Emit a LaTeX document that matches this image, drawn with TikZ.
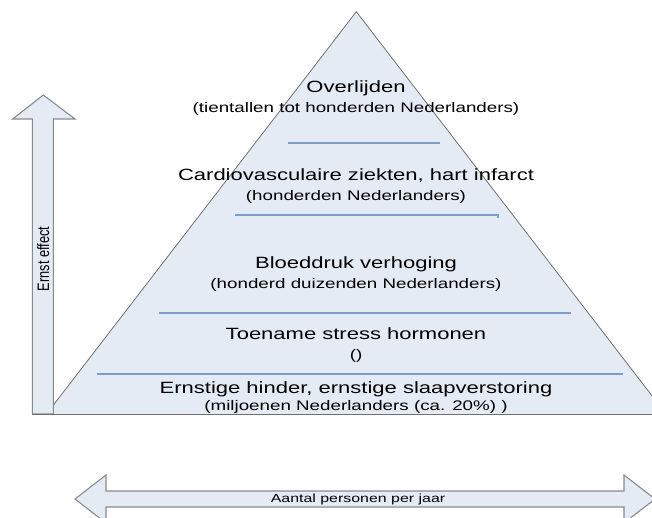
\documentclass[tikz,border=0pt]{standalone}
\usepackage{fontspec}
\setmainfont{Liberation Sans}
\newfontfamily\widefont{Liberation Sans}[FakeStretch=1.35]
\definecolor{pyrfill}{HTML}{E5EBF5}
\definecolor{pyrline}{HTML}{707070}
\definecolor{arrline}{HTML}{8A8A8A}
\definecolor{divline}{HTML}{7F9DCA}
\tikzset{
  head/.style={anchor=base, inner sep=0pt, font=\widefont\fontsize{16.3}{18}\selectfont, text=black},
  sub/.style={anchor=base, inner sep=0pt, font=\widefont\fontsize{13.9}{16}\selectfont, text=black},
  divider/.style={draw=divline, line width=1.1pt},
  bigarrow/.style={draw=arrline, fill=pyrfill, line width=1.1pt, line join=miter},
}
\begin{document}
\begin{tikzpicture}[x=1pt,y=-1pt]
\useasboundingbox (0,0) rectangle (652,517);
% pyramid
\fill[pyrfill] (356.3,11.7) -- (666,414) -- (46.5,414) -- cycle;
\draw[pyrline, line width=0.8pt] (46.5,414) -- (356.3,11.7) -- (666,414);
% dividers
\draw[divider] (288,143) -- (440,143);
\draw[divider] (235,215) -- (498,215) -- (498,218);
\draw[divider] (159,313) -- (571,313);
\draw[divider] (97,374) -- (623,374);
% texts
\node[head] (t1) at (356,92) {Overlijden};
\node[sub]  (s1) at (356,112.5) {(tientallen tot honderden Nederlanders)};
\node[head] (t2) at (356,180) {Cardiovasculaire ziekten, hart infarct};
\node[sub]  (s2) at (356,200) {(honderden Nederlanders)};
\node[head] (t3) at (356,268) {Bloeddruk verhoging};
\node[sub]  (s3) at (356,288) {(honderd duizenden Nederlanders)};
\node[head] (t4) at (356,339) {Toename stress hormonen};
\node[sub]  (s4) at (356,359) {()};
\node[head] (t5) at (356,393) {Ernstige hinder, ernstige slaapverstoring};
\node[sub]  (s5) at (356,410) {(miljoenen Nederlanders (ca. 20\%) )};
% vertical arrow
\draw[bigarrow] (32.3,414) -- (32.3,119) -- (12.7,119) -- (43.3,95) -- (75,119) -- (53.3,119) -- (53.3,414) -- cycle;
\draw[pyrline, line width=0.8pt] (32.3,414) -- (652,414);
\node[rotate=90, inner sep=0pt, font=\fontsize{12.8}{15}\selectfont, text=black] (ernst) at (43.3,259) {\scalebox{1}[1.3]{Ernst effect}};
% horizontal double arrow
\draw[bigarrow] (75,499) -- (106,475) -- (106,491) -- (624,491) -- (624,475) -- (655,499) -- (624,523) -- (624,507) -- (106,507) -- (106,523) -- cycle;
\node[inner sep=0pt, font=\widefont\fontsize{11.8}{13}\selectfont, text=black] (aantal) at (358,499.5) {Aantal personen per jaar};
\end{tikzpicture}
\end{document}
